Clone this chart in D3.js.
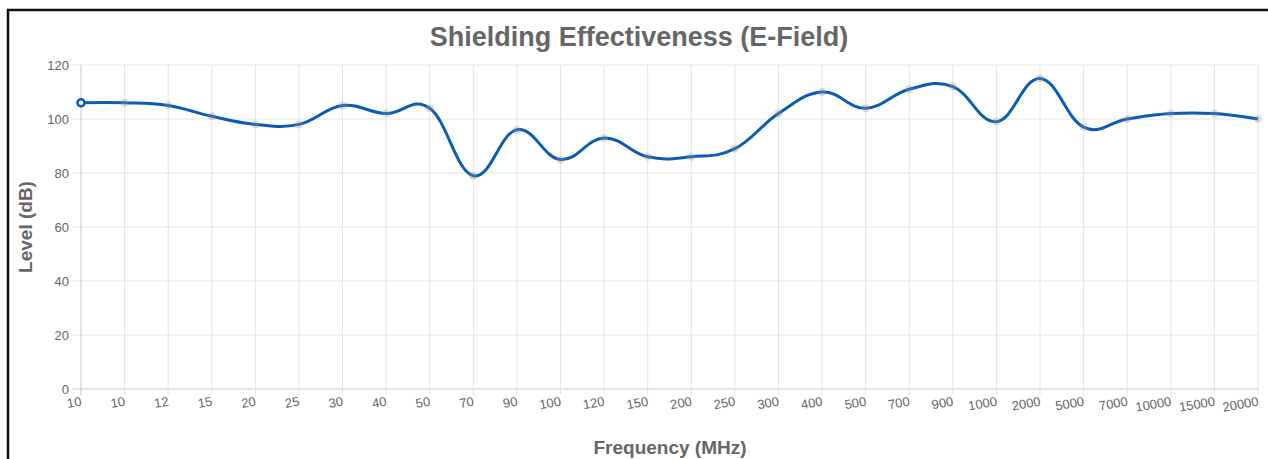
<!DOCTYPE html>
<html>
<head>
<meta charset="utf-8">
<script src="https://cdn.jsdelivr.net/npm/d3@7"></script>
<style>
    body { margin: 0; background: #fff; }
    svg text { font-family: "Liberation Sans", Arial, sans-serif; }
</style>
</head>
<body>
<div id="chart"></div>
<script>
// chart data
var freqLabels = ["10", "10", "12", "15", "20", "25", "30", "40", "50", "70", "90", "100", "120", "150",
    "200", "250", "300", "400", "500", "700", "900", "1000", "2000", "5000", "7000", "10000", "15000", "20000"];
var levels = [106, 106, 105, 101, 98, 98, 105, 102, 104, 79, 96, 85, 93, 86,
    86, 89, 102, 110, 104, 111, 112, 99, 115, 97, 100, 102, 102, 100];
var yTicks = [0, 20, 40, 60, 80, 100, 120];

var svgWidth = 1268
var svgHeight = 459

var margin = {
    top: 65,
    right: 10,
    bottom: 70,
    left: 81
};

var width = svgWidth - margin.left - margin.right
var height = svgHeight - margin.top - margin.bottom

var svg = d3.select("#chart")
    .append("svg")
    .attr("width", svgWidth)
    .attr("height", svgHeight);

// black frame round the chart (screenshot border)
svg.append("rect")
    .attr("x", 8)
    .attr("y", 10)
    .attr("width", svgWidth + 20)
    .attr("height", svgHeight + 20)
    .attr("fill", "none")
    .attr("stroke", "#111")
    .attr("stroke-width", 2.5);

var chartGroup = svg.append("g")
    .attr("transform", `translate(${margin.left}, ${margin.top})`);

// scales
var xScale = d3.scalePoint()
    .domain(d3.range(freqLabels.length))
    .range([0, width]);

var yScale = d3.scaleLinear()
    .domain([0, 120])
    .range([height, 0]);

// grid lines
chartGroup.append("g")
    .selectAll("line")
    .data(yTicks)
    .enter()
    .append("line")
    .attr("x1", -9)
    .attr("x2", width)
    .attr("y1", d => yScale(d))
    .attr("y2", d => yScale(d))
    .attr("stroke", d => d === 0 ? "#c8c8c8" : "#e4e4e4")
    .attr("stroke-width", 1);

chartGroup.append("g")
    .selectAll("line")
    .data(d3.range(freqLabels.length))
    .enter()
    .append("line")
    .attr("x1", d => xScale(d))
    .attr("x2", d => xScale(d))
    .attr("y1", 0)
    .attr("y2", height + 6)
    .attr("stroke", d => d === 0 ? "#c8c8c8" : "#e4e4e4")
    .attr("stroke-width", 1);

// y axis labels
var leftAxis = d3.axisLeft(yScale)
    .tickValues(yTicks)
    .tickSize(0)
    .tickPadding(12);

var yAxis = chartGroup.append("g").call(leftAxis);
yAxis.select(".domain").remove();
yAxis.selectAll("text")
    .attr("fill", "#666")
    .attr("font-size", 13)
    .style("font-family", "Liberation Sans, Arial, sans-serif");

// x axis labels, slightly rotated
var bottomAxis = d3.axisBottom(xScale)
    .tickSize(0)
    .tickFormat(i => freqLabels[i]);

var xAxis = chartGroup.append("g")
    .attr("transform", `translate(0, ${height})`)
    .call(bottomAxis);
xAxis.select(".domain").remove();
xAxis.selectAll("text")
    .attr("fill", "#666")
    .attr("font-size", 13)
    .style("font-family", "Liberation Sans, Arial, sans-serif")
    .attr("text-anchor", "end")
    .attr("dy", null)
    .attr("y", 0)
    .attr("dominant-baseline", "middle")
    .attr("transform", "translate(0, 13) rotate(-10)");

// the line
var line = d3.line()
    .x((d, i) => xScale(i))
    .y(d => yScale(d))
    .curve(d3.curveCardinal.tension(-0.2));

chartGroup.append("path")
    .datum(levels)
    .attr("d", line)
    .attr("fill", "none")
    .attr("stroke", "#0b5cb5")
    .attr("stroke-width", 3);

// faint point markers
chartGroup.selectAll(".pt")
    .data(levels)
    .enter()
    .append("circle")
    .classed("pt", true)
    .attr("cx", (d, i) => xScale(i))
    .attr("cy", d => yScale(d))
    .attr("r", 4)
    .attr("fill", "rgba(150,150,150,0.3)");

// first point highlighted
chartGroup.append("circle")
    .attr("cx", xScale(0))
    .attr("cy", yScale(levels[0]))
    .attr("r", 3.5)
    .attr("fill", "#fff")
    .attr("stroke", "#0b5cb5")
    .attr("stroke-width", 2.5);

// title and axis titles
svg.append("text")
    .attr("x", 639)
    .attr("y", 46)
    .attr("text-anchor", "middle")
    .attr("font-size", 27)
    .attr("font-weight", "bold")
    .attr("fill", "#666")
    .text("Shielding Effectiveness (E-Field)");

svg.append("text")
    .attr("transform", "translate(32, 227) rotate(-90)")
    .attr("text-anchor", "middle")
    .attr("font-size", 19)
    .attr("font-weight", "bold")
    .attr("fill", "#666")
    .text("Level (dB)");

svg.append("text")
    .attr("x", 670)
    .attr("y", 454)
    .attr("text-anchor", "middle")
    .attr("font-size", 19)
    .attr("font-weight", "bold")
    .attr("fill", "#666")
    .text("Frequency (MHz)");
</script>
</body>
</html>
